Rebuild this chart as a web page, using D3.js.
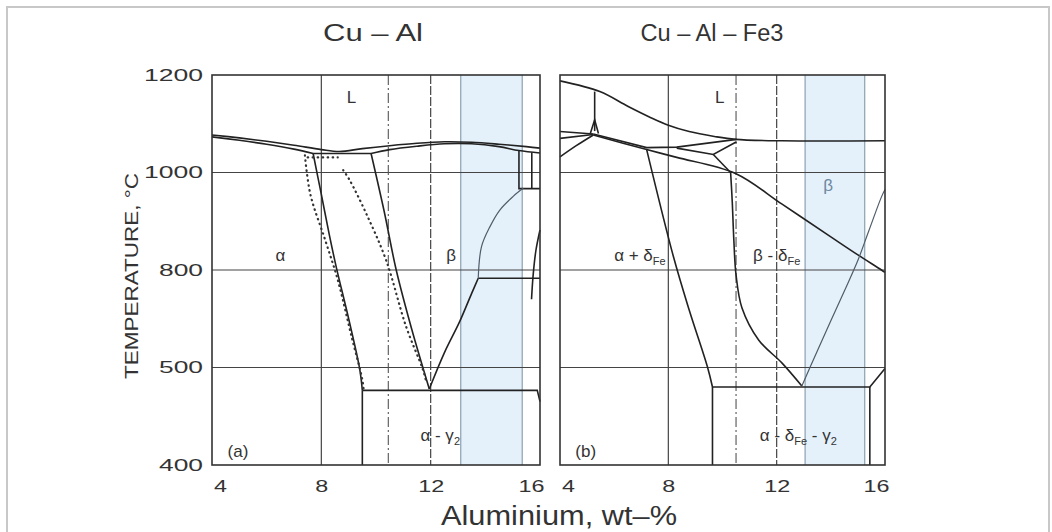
<!DOCTYPE html>
<html>
<head>
<meta charset="utf-8">
<script src="https://cdn.jsdelivr.net/npm/d3@7"></script>
<style>
  body { margin: 0; background: #fff; }
  text { font-family: 'Liberation Sans', Arial, sans-serif; fill: #333; }
</style>
</head>
<body>
<div id="chart"></div>
<script>
// Axis values and labels
const xTicks = [4, 8, 12, 16];
const yTicks = [400, 600, 800, 1000, 1200];
const yTickLabels = ['400', '500', '800', '1000', '1200'];
const gridX = [8, 12];
const gridY = [600, 800, 1000];
const panelTitles = ['Cu – Al', 'Cu – Al – Fe3'];
const dashDotX = [10.45, 10.5];
const blueBands = [[13.1, 15.35], [13.05, 15.25]];

// (a) Cu-Al boundaries, [wt% Al, temperature]
const aLiquidus = [[4, 1077], [5, 1071], [6, 1064], [7, 1056], [8, 1047], [8.66, 1043], [9.5, 1049], [10.5, 1055], [11.5, 1060], [12.5, 1063], [13.5, 1062], [14.5, 1058], [15.5, 1053], [16, 1050]];
const aSolidusLeft = [[4, 1073], [5, 1066], [6, 1058], [7, 1048], [7.7, 1039]];
const aEutectic = [[7.7, 1039], [9.82, 1039]];
const aSolidusRight = [[9.82, 1039], [10.5, 1047], [11.5, 1054], [12.5, 1059], [13.5, 1059], [14.5, 1053], [15.23, 1045], [16, 1040]];
const aAlphaSolvus = [[7.7, 1039], [8.0, 955], [8.3, 870], [8.55, 805], [9.0, 700], [9.4, 598], [9.5, 553]];
const aBetaSolvus = [[9.82, 1039], [10.3, 920], [10.74, 800], [11.3, 680], [11.95, 556]];
const aEutectoid = [[9.5, 553], [15.9, 553], [16, 530]];
const aEutectoidFoot = [[9.5, 400], [9.5, 553]];
const aGammaLow = [[11.95, 556], [12.5, 630], [13.06, 694], [13.5, 752], [13.74, 783]];
const aGammaHigh = [[13.74, 783], [13.86, 848], [14.17, 889], [14.53, 923], [15.02, 951], [15.39, 968]];
const aBeta780 = [[13.74, 783], [16, 783]];
const aBoxLeft = [[15.23, 1045], [15.23, 967], [16, 967]];
const aBoxRight = [[15.7, 1041], [15.7, 967]];
const aEdgeCurve = [[15.69, 740], [15.75, 790], [15.85, 840], [16, 882]];
const aAlphaDotted = [[7.4, 1035], [7.6, 955], [8.15, 860], [8.6, 780], [9.1, 665], [9.5, 575], [9.55, 553]];
const aBetaDotted = [[8.8, 1005], [9.03, 985], [9.64, 916], [10.37, 820], [11.1, 684], [11.72, 595], [11.85, 568]];
const aEutecticDotted = [[7.5, 1031], [8.6, 1031]];

// (b) Cu-Al-Fe3 boundaries
const bLiquidus = [[4, 1188], [5.47, 1166], [6.5, 1136], [7.3, 1114], [8.0, 1097], [8.77, 1084], [9.7, 1074], [10.48, 1068], [12.2, 1065], [16, 1065]];
const bStem = [[5.28, 1166], [5.28, 1085]];
const bFork = [[5.12, 1080], [5.28, 1108], [5.42, 1080]];
const bLeftTop = [[4, 1084], [5.23, 1079]];
const bLeftMid = [[4, 1070], [5.23, 1078]];
const bLeftLow = [[4, 1032], [4.6, 1055], [5.23, 1077]];
const bUpper = [[5.23, 1079], [7.2, 1051], [8.31, 1052], [10.52, 1068]];
const bLensLow = [[8.31, 1050], [9.66, 1037], [10.52, 1063]];
const bDiagonal = [[5.23, 1077], [7.2, 1047], [8.31, 1031], [10.48, 998], [12.2, 935], [14.0, 868], [15.0, 831], [15.87, 800], [16, 795]];
const bAlphaDelta = [[7.2, 1047], [8.2, 825], [8.77, 718], [9.44, 602], [9.63, 560]];
const bBetaDeltaTop = [[9.66, 1037], [10.3, 1000]];
const bBetaDelta = [[10.3, 1000], [10.36, 940], [10.42, 860], [10.5, 790], [10.72, 722], [11.34, 656], [12.2, 609], [12.93, 562]];
const bEutectoid = [[9.63, 560], [15.44, 560], [16, 598]];
const bFootLeft = [[9.63, 400], [9.63, 560]];
const bFootRight = [[15.44, 400], [15.44, 560]];
const bGamma = [[12.93, 562], [13.5, 634], [14, 696], [14.5, 757], [15, 820], [15.4, 880], [15.87, 950], [16, 965]];

// Region labels: [wt%, temperature, text parts]
const aLabels = [
  [9.1, 1155, [['L']]],
  [6.5, 830, [['α']]],
  [12.75, 830, [['β']]],
  [12.35, 462, [['α - γ'], ['2', 'sub']]],
  [4.95, 428, [['(a)']]]
];
const bLabels = [
  [9.9, 1155, [['L']]],
  [13.9, 975, [['β']], 'blue'],
  [6.95, 830, [['α + δ'], ['Fe', 'sub']]],
  [12.0, 830, [['β - δ'], ['Fe', 'sub']]],
  [12.8, 462, [['α - δ'], ['Fe', 'sub'], [' - γ'], ['2', 'sub']]],
  [4.95, 428, [['(b)']]]
];

const panels = [
  {
    curved: [aLiquidus, aSolidusLeft, aSolidusRight, aAlphaSolvus, aBetaSolvus, aGammaLow, aEdgeCurve],
    straight: [aEutectic, aEutectoid, aEutectoidFoot, aBeta780, aBoxLeft, aBoxRight],
    grey: [aGammaHigh],
    dotted: [aAlphaDotted, aBetaDotted, aEutecticDotted],
    labels: aLabels
  },
  {
    curved: [bLiquidus, bLeftLow, bDiagonal, bAlphaDelta, bBetaDelta],
    straight: [bStem, bFork, bLeftTop, bLeftMid, bUpper, bLensLow, bBetaDeltaTop, bEutectoid, bFootLeft, bFootRight],
    grey: [bGamma],
    dotted: [],
    labels: bLabels
  }
];

const w = 1052;
const h = 532;

// Scales
const yScale = d3.scaleLinear().domain([400, 1200]).range([465, 75]);
const xScales = [
  d3.scaleLinear().domain([4, 16]).range([212, 540]),
  d3.scaleLinear().domain([4, 16]).range([560, 885])
];

const svg = d3.select('#chart')
  .append('svg')
  .attr('width', w)
  .attr('height', h);

// scan border
svg.append('rect')
  .attr('x', 7).attr('y', 7)
  .attr('width', 1042).attr('height', 540)
  .attr('fill', 'none')
  .attr('stroke', '#c8c8c8')
  .attr('stroke-width', 2);

panels.forEach((panel, i) => {
  const x = xScales[i];
  const g = svg.append('g');
  const [y0, y1] = yScale.range();

  const curvedLine = d3.line()
    .curve(d3.curveCatmullRom.alpha(0.5))
    .x(d => x(d[0]))
    .y(d => yScale(d[1]));

  const straightLine = d3.line()
    .x(d => x(d[0]))
    .y(d => yScale(d[1]));

  // blue band
  const band = blueBands[i];
  g.append('rect')
    .attr('x', x(band[0]))
    .attr('y', y1)
    .attr('width', x(band[1]) - x(band[0]))
    .attr('height', y0 - y1)
    .attr('fill', '#e4f1fb');

  g.selectAll('.band-edge')
    .data(band)
    .join('line')
    .attr('x1', d => x(d)).attr('x2', d => x(d))
    .attr('y1', y1).attr('y2', y0)
    .attr('stroke', '#93a7b6')
    .attr('stroke-width', 1.3);

  // grid
  g.selectAll('.grid-x')
    .data(gridX)
    .join('line')
    .attr('x1', d => x(d)).attr('x2', d => x(d))
    .attr('y1', y1).attr('y2', y0)
    .attr('stroke', '#444')
    .attr('stroke-width', 1.2)
    .attr('stroke-dasharray', d => d === 12 ? '9,2' : null);

  g.selectAll('.grid-y')
    .data(gridY)
    .join('line')
    .attr('x1', x.range()[0]).attr('x2', x.range()[1])
    .attr('y1', d => yScale(d)).attr('y2', d => yScale(d))
    .attr('stroke', '#444')
    .attr('stroke-width', 1.2);

  g.append('line')
    .attr('x1', x(dashDotX[i])).attr('x2', x(dashDotX[i]))
    .attr('y1', y1).attr('y2', y0)
    .attr('stroke', '#555')
    .attr('stroke-width', 1.1)
    .attr('stroke-dasharray', '10,3,2,3');

  // phase boundaries
  g.selectAll('.curved')
    .data(panel.curved)
    .join('path')
    .attr('d', curvedLine)
    .attr('fill', 'none')
    .attr('stroke', '#222')
    .attr('stroke-width', 1.6);

  g.selectAll('.straight')
    .data(panel.straight)
    .join('path')
    .attr('d', straightLine)
    .attr('fill', 'none')
    .attr('stroke', '#222')
    .attr('stroke-width', 1.6);

  g.selectAll('.grey')
    .data(panel.grey)
    .join('path')
    .attr('d', curvedLine)
    .attr('fill', 'none')
    .attr('stroke', '#4f5d69')
    .attr('stroke-width', 1.2);

  g.selectAll('.dotted')
    .data(panel.dotted)
    .join('path')
    .attr('d', curvedLine)
    .attr('fill', 'none')
    .attr('stroke', '#333')
    .attr('stroke-width', 2.2)
    .attr('stroke-linecap', 'round')
    .attr('stroke-dasharray', '0.5,4.5');

  // frame
  g.append('rect')
    .attr('x', x.range()[0])
    .attr('y', y1)
    .attr('width', x.range()[1] - x.range()[0])
    .attr('height', y0 - y1)
    .attr('fill', 'none')
    .attr('stroke', '#333')
    .attr('stroke-width', 1.6);

  // region labels
  panel.labels.forEach(lab => {
    const t = g.append('text')
      .attr('x', x(lab[0]))
      .attr('y', yScale(lab[1]))
      .attr('dy', '0.35em')
      .attr('text-anchor', 'middle')
      .attr('font-size', 17)
      .style('fill', lab[3] === 'blue' ? '#6d87a0' : '#333');
    let shifted = false;
    lab[2].forEach(p => {
      const ts = t.append('tspan').text(p[0]);
      if (p[1] === 'sub') {
        ts.attr('font-size', 11).attr('dy', 4);
        shifted = true;
      } else if (shifted) {
        ts.attr('dy', -4);
        shifted = false;
      }
    });
  });

  // x axis
  const xAxis = d3.axisBottom(x)
    .tickValues(xTicks)
    .tickSize(0)
    .tickPadding(15);

  const xa = g.append('g')
    .attr('transform', `translate(0, ${y0})`)
    .call(xAxis);
  xa.select('.domain').remove();
  xa.selectAll('.tick text')
    .attr('font-size', 17)
    .attr('font-family', 'Liberation Sans, Arial, sans-serif')
    .attr('fill', '#333')
    .attr('textLength', d => String(d).length * 13)
    .attr('lengthAdjust', 'spacingAndGlyphs')
    .attr('dx', d => d === 4 ? 8 : d === 16 ? -9 : 0);

  // panel title
  svg.append('text')
    .attr('x', i === 0 ? 373 : 712)
    .attr('y', 41)
    .attr('text-anchor', 'middle')
    .attr('font-size', 23)
    .attr('textLength', i === 0 ? 100 : 143)
    .attr('lengthAdjust', 'spacingAndGlyphs')
    .text(panelTitles[i]);
});

// y axis on the left panel only
const yAxis = d3.axisLeft(yScale)
  .tickValues(yTicks)
  .tickSize(0)
  .tickPadding(9)
  .tickFormat((d, k) => yTickLabels[k]);

const ya = svg.append('g')
  .attr('transform', `translate(${xScales[0].range()[0]}, 0)`)
  .call(yAxis);
ya.select('.domain').remove();
ya.selectAll('.tick text')
  .attr('font-size', 17)
  .attr('font-family', 'Liberation Sans, Arial, sans-serif')
  .attr('fill', '#333')
  .attr('textLength', (d, k) => yTickLabels[k].length * 15 - 1)
  .attr('lengthAdjust', 'spacingAndGlyphs');

// axis titles
svg.append('text')
  .attr('transform', 'translate(138, 276) rotate(-90)')
  .attr('text-anchor', 'middle')
  .attr('font-size', 19)
  .attr('textLength', 206)
  .attr('lengthAdjust', 'spacingAndGlyphs')
  .text('TEMPERATURE, °C');

svg.append('text')
  .attr('x', 559)
  .attr('y', 525)
  .attr('text-anchor', 'middle')
  .attr('font-size', 27)
  .attr('textLength', 236)
  .attr('lengthAdjust', 'spacingAndGlyphs')
  .text('Aluminium, wt–%');
</script>
</body>
</html>
